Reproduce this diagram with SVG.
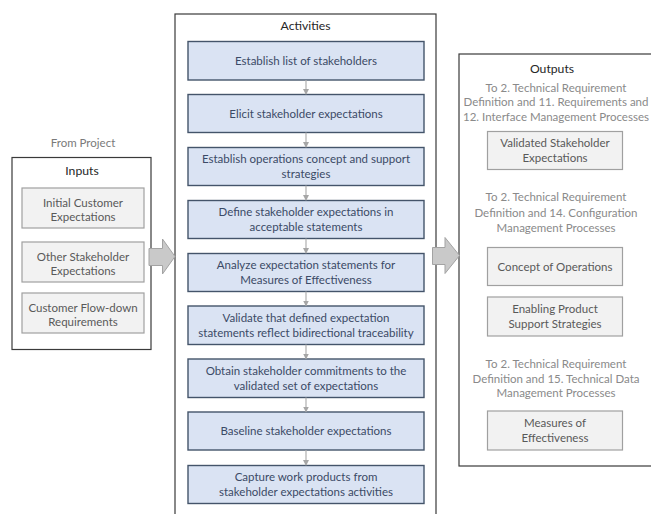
<svg xmlns="http://www.w3.org/2000/svg" width="651" height="514" viewBox="0 0 651 514">
  <defs>
    <marker id="tip" viewBox="0 0 6 6" refX="5" refY="3" markerWidth="6" markerHeight="6" markerUnits="userSpaceOnUse" orient="auto">
      <path d="M0,0 L6,3 L0,6 Z" fill="#a6a6a6"/>
    </marker>
    <style>
      text { font-family: Lato, "Liberation Sans", sans-serif; text-anchor: middle; }
      .frame { fill: #ffffff; stroke: #3a3a3a; stroke-width: 1.2; }
      .head { font-size: 12.2px; fill: #262626; }
      .note { font-size: 11.5px; fill: #8a8a8a; }
      .src { font-size: 11.5px; fill: #7a7a7a; }
      .act rect { fill: #dae3f3; stroke: #44546a; stroke-width: 1.4; }
      .act text { font-size: 11.5px; fill: #3b4a66; }
      .item rect { fill: #f2f2f2; stroke: #a0a0a0; stroke-width: 1.2; }
      .item text { font-size: 11.5px; fill: #595959; }
      .flow { fill: #c9c9c9; stroke: #a3a3a3; stroke-width: 1; }
      #connectors line { stroke: #b0b0b0; stroke-width: 1.2; marker-end: url(#tip); }
    </style>
  </defs>

  <rect width="651" height="514" fill="#ffffff"/>

  <!-- Inputs panel -->
  <g id="inputs">
    <text class="src" x="83" y="147">From Project</text>
    <rect class="frame" x="12" y="157.5" width="139" height="192"/>
    <text class="head" x="82" y="174.5">Inputs</text>
    <g class="item" id="in-initial">
      <rect x="22" y="188" width="122" height="40"/>
      <text x="83" y="206.5">Initial Customer</text>
      <text x="83" y="221">Expectations</text>
    </g>
    <g class="item" id="in-other">
      <rect x="22" y="242" width="122" height="40"/>
      <text x="83" y="260.5">Other Stakeholder</text>
      <text x="83" y="275">Expectations</text>
    </g>
    <g class="item" id="in-flowdown">
      <rect x="22" y="293" width="122" height="40"/>
      <text x="83" y="311.5">Customer Flow-down</text>
      <text x="83" y="326">Requirements</text>
    </g>
  </g>

  <!-- Activities panel -->
  <g id="activities">
    <rect class="frame" x="175" y="14" width="261" height="520"/>
    <text class="head" x="305.5" y="29.5">Activities</text>
    <g class="act" id="a1">
      <rect x="188" y="41.5" width="236" height="38.5"/>
      <text x="306" y="64.5">Establish list of stakeholders</text>
    </g>
    <g class="act" id="a2">
      <rect x="188" y="94.5" width="236" height="38"/>
      <text x="306" y="117.5">Elicit stakeholder expectations</text>
    </g>
    <g class="act" id="a3">
      <rect x="188" y="147.5" width="236" height="38"/>
      <text x="306" y="163">Establish operations concept and support</text>
      <text x="306" y="177.5">strategies</text>
    </g>
    <g class="act" id="a4">
      <rect x="188" y="200.5" width="236" height="38"/>
      <text x="306" y="216">Define stakeholder expectations in</text>
      <text x="306" y="230.5">acceptable statements</text>
    </g>
    <g class="act" id="a5">
      <rect x="188" y="253.5" width="236" height="38"/>
      <text x="306" y="269">Analyze expectation statements for</text>
      <text x="306" y="283.5">Measures of Effectiveness</text>
    </g>
    <g class="act" id="a6">
      <rect x="188" y="306" width="236" height="38.5"/>
      <text x="306" y="321.5">Validate that defined expectation</text>
      <text x="306" y="336.5">statements reflect bidirectional traceability</text>
    </g>
    <g class="act" id="a7">
      <rect x="188" y="359" width="236" height="38.5"/>
      <text x="306" y="374.5">Obtain stakeholder commitments to the</text>
      <text x="306" y="389.5">validated set of expectations</text>
    </g>
    <g class="act" id="a8">
      <rect x="188" y="412" width="236" height="38"/>
      <text x="306" y="435">Baseline stakeholder expectations</text>
    </g>
    <g class="act" id="a9">
      <rect x="188" y="465.5" width="236" height="38"/>
      <text x="306" y="481">Capture work products from</text>
      <text x="306" y="496">stakeholder expectations activities</text>
    </g>
  </g>

  <!-- Outputs panel -->
  <g id="outputs">
    <rect class="frame" x="459" y="54" width="220" height="412"/>
    <text class="head" x="552" y="72.5">Outputs</text>
    <text class="note" x="556" y="91.5">To 2. Technical Requirement</text>
    <text class="note" x="556" y="106">Definition and 11. Requirements and</text>
    <text class="note" x="556" y="120.5">12. Interface Management Processes</text>
    <g class="item" id="out-validated">
      <rect x="487.5" y="131.5" width="135" height="38"/>
      <text x="555" y="147">Validated Stakeholder</text>
      <text x="555" y="161.5">Expectations</text>
    </g>
    <text class="note" x="556" y="200.5">To 2. Technical Requirement</text>
    <text class="note" x="556" y="216.5">Definition and 14. Configuration</text>
    <text class="note" x="556" y="231.5">Management Processes</text>
    <g class="item" id="out-conops">
      <rect x="487.5" y="247.5" width="135" height="38"/>
      <text x="555" y="270.5">Concept of Operations</text>
    </g>
    <g class="item" id="out-support">
      <rect x="487.5" y="297" width="135" height="39"/>
      <text x="555" y="312.5">Enabling Product</text>
      <text x="555" y="327.5">Support Strategies</text>
    </g>
    <text class="note" x="556" y="368">To 2. Technical Requirement</text>
    <text class="note" x="556" y="382.5">Definition and 15. Technical Data</text>
    <text class="note" x="556" y="397">Management Processes</text>
    <g class="item" id="out-moe">
      <rect x="487.5" y="411" width="135" height="39"/>
      <text x="555" y="426.5">Measures of</text>
      <text x="555" y="441.5">Effectiveness</text>
    </g>
  </g>

  <!-- Connectors -->
  <g id="connectors">
    <path class="flow" d="M149,248.5 H162.5 V239 L175,256.5 L162.5,274 V265.5 H149 Z"/>
    <path class="flow" d="M432.5,247.5 H445 V237.5 L459.5,255.5 L445,273.5 V264.5 H432.5 Z"/>
    <line x1="306" y1="80" x2="306" y2="94"/>
    <line x1="306" y1="132.5" x2="306" y2="147"/>
    <line x1="306" y1="185.5" x2="306" y2="200"/>
    <line x1="306" y1="238.5" x2="306" y2="253"/>
    <line x1="306" y1="291.5" x2="306" y2="305.5"/>
    <line x1="306" y1="344.5" x2="306" y2="358.5"/>
    <line x1="306" y1="397.5" x2="306" y2="411.5"/>
    <line x1="306" y1="450" x2="306" y2="465"/>
  </g>
</svg>
